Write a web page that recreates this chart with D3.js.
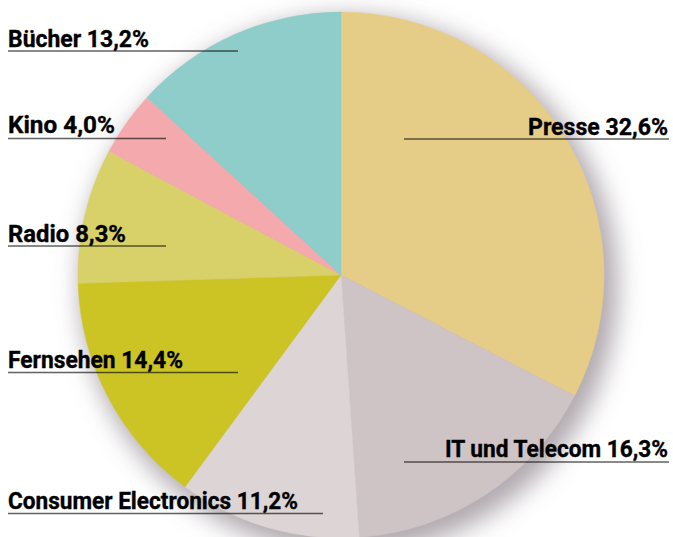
<!DOCTYPE html>
<head>
  <meta charset="utf-8">
  <script src="https://d3js.org/d3.v7.min.js"></script>
  <style>
    body { margin:0; background:#fff; }
    .lbl { font-family: Roboto, "Liberation Sans", sans-serif; font-weight: 700; font-size: 23px; fill: #000; stroke: #000; stroke-width: 0.35px; }
    .rule { stroke: #000; stroke-opacity: 0.62; stroke-width: 1.6px; }
  </style>
</head>
<body>
<script>
  // data
  var categories = ["Presse", "IT und Telecom", "Consumer Electronics", "Fernsehen", "Radio", "Kino", "Bücher"];
  var shares = [32.6, 16.3, 11.2, 14.4, 8.3, 4.0, 13.2];
  var palette = ["#e6cd87", "#cec3c5", "#ddd5d5", "#ccc425", "#d8d16a", "#f4aaac", "#8ecdc9"];

  // label placement: [text x, baseline, text width, rule x1, rule x2, rule y, anchor]
  var labelLayout = {
    "Presse":               [668, 135, 140, 404, 669, 139, "end"],
    "IT und Telecom":       [668, 457, 223, 404, 669, 462, "end"],
    "Consumer Electronics": [8, 509, 290, 8, 323, 513.5, "start"],
    "Fernsehen":            [8, 367.5, 175, 8, 238, 372.5, "start"],
    "Radio":                [8, 242, 118, 8, 166, 246, "start"],
    "Kino":                 [8, 133, 107, 8, 166, 138.5, "start"],
    "Bücher":               [8, 46.5, 141, 8, 238, 51, "start"]
  };

  var W = 673, H = 537, cx = 341, cy = 275, R = 263;

  var svg = d3.select("body").append("svg")
      .attr("width", W)
      .attr("height", H);

  var defs = svg.append("defs");
  var f = defs.append("filter").attr("id", "shadow")
      .attr("x", "-30%").attr("y", "-30%").attr("width", "160%").attr("height", "160%");
  f.append("feGaussianBlur").attr("stdDeviation", 12);

  // soft shadow behind the pie
  svg.append("circle")
      .attr("cx", cx + 8)
      .attr("cy", cy + 10)
      .attr("r", R + 6)
      .attr("fill", "#7d7079")
      .attr("fill-opacity", 0.6)
      .attr("filter", "url(#shadow)");

  var pie = d3.pie().sort(null).value(function(d) { return d; });
  var arc = d3.arc().innerRadius(0).outerRadius(R);

  var g = svg.append("g").attr("transform", "translate(" + cx + "," + cy + ")");

  g.selectAll("path").data(pie(shares)).enter().append("path")
      .attr("d", arc)
      .attr("fill", function(d, i) { return palette[i]; })
      .attr("stroke", function(d, i) { return palette[i]; })
      .attr("stroke-width", 0.5);

  var fmt = function(v) { return v.toFixed(1).replace(".", ","); };

  categories.forEach(function(c, i) {
    var L = labelLayout[c];
    svg.append("line")
        .attr("class", "rule")
        .attr("x1", L[3]).attr("x2", L[4])
        .attr("y1", L[5]).attr("y2", L[5]);
    svg.append("text")
        .attr("class", "lbl")
        .attr("x", L[0])
        .attr("y", L[1])
        .attr("text-anchor", L[6])
        .attr("textLength", L[2])
        .attr("lengthAdjust", "spacingAndGlyphs")
        .text(c + " " + fmt(shares[i]) + "%");
  });
</script>
</body>
